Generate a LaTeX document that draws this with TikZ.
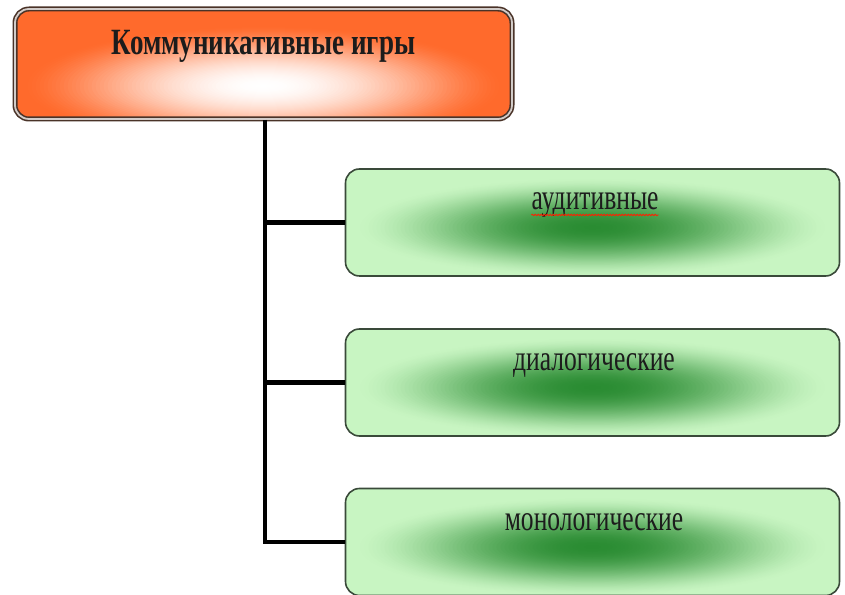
\documentclass[tikz,border=0pt]{standalone}
\usepackage{fontspec}
\setmainfont{Liberation Serif}
\newfontfamily\titlefont[FakeStretch=0.73]{Liberation Serif}
\newfontfamily\itemfont[FakeStretch=0.71]{Liberation Serif}
\usetikzlibrary{calc,decorations.pathmorphing}
\definecolor{orangeA}{HTML}{FF6A2C}
\definecolor{orangeHi}{HTML}{FFFFFF}
\definecolor{borderA}{HTML}{4A3328}
\definecolor{greenL}{HTML}{C8F5C2}
\definecolor{greenD}{HTML}{2A8C32}
\definecolor{greenB}{HTML}{3A4A3A}
\definecolor{txt}{HTML}{1C1C1C}
\tikzset{
  glow/.style n args={7}{path picture={
    \foreach \i in {60,59,...,1}{
      \pgfmathsetmacro\tt{\i/60}
      \pgfmathsetmacro\pp{100*(1-\tt*\tt)^#7}
      \fill[#1!\pp!#2] ($(path picture bounding box.center)+(#3,#4)$)
        ellipse ({\tt*#5} and {\tt*#6});
    }}},
  topbox/.style={draw=borderA, line width=1.6pt, rounded corners=14pt,
    minimum width=497pt, minimum height=110pt, inner sep=0pt,
    double=borderA!25!white, double distance=1.8pt,
    fill=orangeA, glow={orangeHi}{orangeA}{0pt}{-22pt}{240pt}{60pt}{1.6}},
  greenbox/.style={draw=greenB, line width=1.6pt, rounded corners=14pt,
    minimum width=494pt, minimum height=107pt, inner sep=0pt,
    fill=greenL, glow={greenD}{greenL}{0pt}{-5pt}{240pt}{50pt}{1.8}},
  titletext/.style={text=txt, anchor=base, inner sep=0pt,
    font=\titlefont\bfseries\fontsize{37}{40}\selectfont},
  itemtext/.style={text=txt, anchor=base, inner sep=0pt,
    font=\itemfont\fontsize{36}{40}\selectfont},
  conn/.style={line width=4.5pt, black},
  spell/.style={red!75!orange, line width=0.8pt,
    decorate, decoration={snake, amplitude=0.7pt, segment length=3pt}}
}
\begin{document}
\begin{tikzpicture}[x=1pt,y=1pt]
\useasboundingbox (0,0) rectangle (845,594);
\node[topbox] (top) at (263.5,530) {};
\node[titletext] (toptext) at ($(top.center)+(0,9)$) {Коммуникативные игры};
\node[greenbox] (b1) at (592.5,371.5) {};
\node[greenbox] (b2) at (592.5,211.5) {};
\node[greenbox] (b3) at (592.5,52) {};
\node[itemtext] (t1) at ($(b1.center)+(2.5,12.5)$) {аудитивные};
\node[itemtext] (t2) at ($(b2.center)+(1.5,11.5)$) {диалогические};
\node[itemtext] (t3) at ($(b3.center)+(1.5,12)$) {монологические};
\draw[spell] ($(t1.base west)+(0,-5)$) -- ($(t1.base east)+(0,-5)$);
\coordinate (trunk) at ($(top.south)+(1.5,0)$);
\draw[conn] (trunk) -- (trunk |- b3.west) -- (b3.west);
\draw[conn] (trunk |- b1.west) -- (b1.west);
\draw[conn] (trunk |- b2.west) -- (b2.west);
\end{tikzpicture}
\end{document}
